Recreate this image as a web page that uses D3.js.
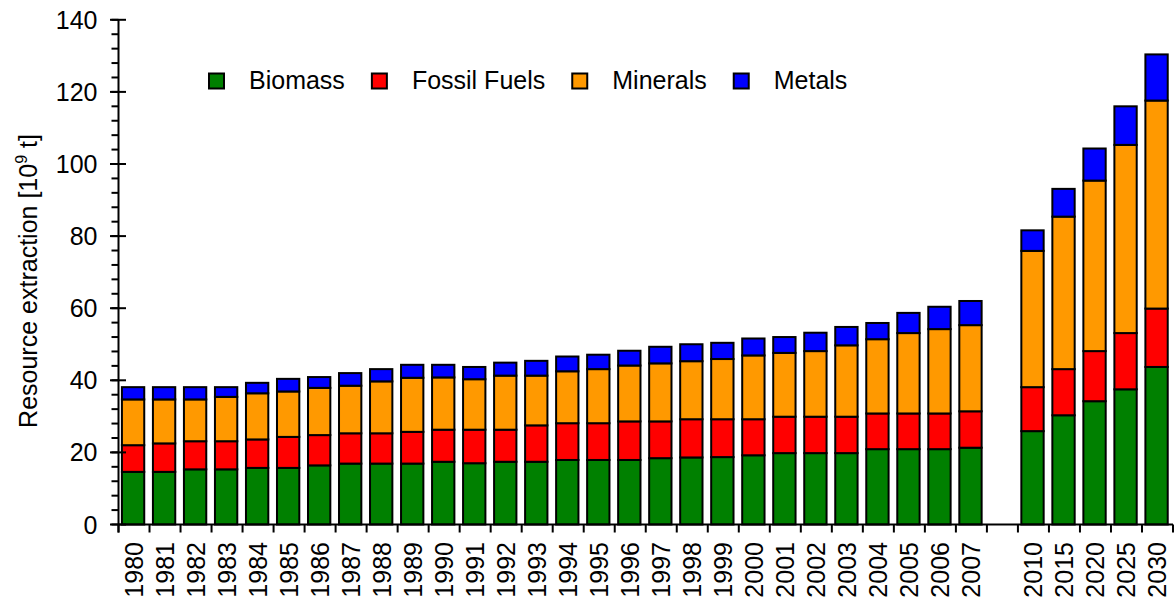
<!DOCTYPE html>
<html>
<head>
<meta charset="utf-8">
<script src="https://cdn.jsdelivr.net/npm/d3@7"></script>
<style>
  html, body { margin: 0; padding: 0; background: #ffffff; }
  svg { display: block; font-family: "Liberation Sans", Arial, sans-serif; }
</style>
</head>
<body>
<svg id="chart" width="1174" height="601"></svg>
<script>
// ---- data ----
const categories = ["1980","1981","1982","1983","1984","1985","1986","1987","1988","1989",
  "1990","1991","1992","1993","1994","1995","1996","1997","1998","1999",
  "2000","2001","2002","2003","2004","2005","2006","2007","","2010","2015","2020","2025","2030"];

const biomass = [14.6,14.6,15.3,15.3,15.7,15.7,16.4,16.9,16.9,16.9,
  17.4,17.0,17.4,17.4,17.9,17.9,17.9,18.4,18.6,18.7,
  19.2,19.8,19.8,19.8,20.9,20.9,20.9,21.3,null,25.9,30.3,34.2,37.5,43.7];
const fossilFuels = [7.4,7.9,7.8,7.8,7.9,8.6,8.4,8.4,8.4,8.8,
  8.9,9.3,8.9,10.1,10.2,10.2,10.7,10.2,10.6,10.5,
  10.0,10.1,10.1,10.1,9.9,9.9,9.9,10.1,null,12.2,12.8,13.9,15.6,16.2];
const minerals = [12.7,12.2,11.6,12.3,12.8,12.6,13.1,13.2,14.4,15.0,
  14.5,14.0,15.0,13.8,14.4,15.0,15.5,16.1,16.1,16.7,
  17.7,17.7,18.2,19.8,20.6,22.3,23.4,23.9,null,37.8,42.3,47.3,52.2,57.7];
const metals = [3.4,3.4,3.4,2.7,2.9,3.5,3.0,3.5,3.4,3.6,
  3.5,3.4,3.6,4.1,4.1,4.0,4.1,4.6,4.7,4.5,
  4.7,4.4,5.1,5.1,4.5,5.6,6.2,6.7,null,5.7,7.7,8.9,10.7,12.8];

const seriesNames = ["Biomass","Fossil Fuels","Minerals","Metals"];
const seriesColors = ["#008000","#ff0000","#ff9900","#0000ff"];
const yTicks = [0,20,40,60,80,100,120,140];
const yMinorTicks = d3.range(0, 141, 4);

(function () {
// ---- build table ----
const seriesData = [biomass, fossilFuels, minerals, metals];
const rows = categories.map((c, i) => {
  const r = { key: i, cat: c, empty: biomass[i] === null };
  seriesNames.forEach((s, j) => r[s] = seriesData[j][i] === null ? 0 : seriesData[j][i]);
  return r;
});

const svg = d3.select("#chart");
const pLeft = 118.5, pRight = 1173, pTop = 19.8, pBottom = 524.5;

const x = d3.scaleBand().domain(rows.map(r => r.key)).range([pLeft, pRight]).padding(0);
const y = d3.scaleLinear().domain([0, 140]).range([pBottom, pTop]);
const color = d3.scaleOrdinal().domain(seriesNames).range(seriesColors);

const stacked = d3.stack().keys(seriesNames)(rows);

const step = x.step();
const barOff = step * 0.11, barW = step * 0.72;

// bars
const g = svg.append("g");
stacked.forEach(layer => {
  g.append("g").selectAll("rect")
    .data(layer.filter(d => !d.data.empty))
    .join("rect")
    .attr("x", d => x(d.data.key) + barOff)
    .attr("width", barW)
    .attr("y", d => y(d[1]))
    .attr("height", d => y(d[0]) - y(d[1]))
    .attr("fill", color(layer.key))
    .attr("stroke", "#000")
    .attr("stroke-width", 2);
});

// y axis
const yAxisG = svg.append("g");
yAxisG.append("line").attr("x1", pLeft).attr("x2", pLeft).attr("y1", y(140)).attr("y2", pBottom + 8)
  .attr("stroke", "#000").attr("stroke-width", 2);
yAxisG.selectAll("line.minor").data(yMinorTicks).join("line").attr("class", "minor")
  .attr("x1", pLeft - 7).attr("x2", pLeft).attr("y1", d => y(d)).attr("y2", d => y(d))
  .attr("stroke", "#000").attr("stroke-width", 2);
yAxisG.selectAll("line.major").data(yTicks).join("line").attr("class", "major")
  .attr("x1", pLeft - 8.5).attr("x2", pLeft + 7.5).attr("y1", d => y(d)).attr("y2", d => y(d))
  .attr("stroke", "#000").attr("stroke-width", 2);
yAxisG.selectAll("text").data(yTicks).join("text")
  .attr("x", 97.5).attr("y", d => y(d)).attr("dy", "0.36em")
  .attr("text-anchor", "end").attr("font-size", 25).attr("fill", "#000")
  .text(d => d);

// x axis
const xAxisG = svg.append("g");
xAxisG.append("line").attr("x1", pLeft).attr("x2", pRight).attr("y1", pBottom).attr("y2", pBottom)
  .attr("stroke", "#000").attr("stroke-width", 2);
const boundaries = rows.map(r => x(r.key) + step).concat([pLeft]);
xAxisG.selectAll("line.tick").data(boundaries).join("line").attr("class", "tick")
  .attr("x1", d => d).attr("x2", d => d).attr("y1", pBottom).attr("y2", pBottom + 8)
  .attr("stroke", "#000").attr("stroke-width", 2);
xAxisG.selectAll("text").data(rows).join("text")
  .attr("transform", d => `translate(${x(d.key) + step / 2},542) rotate(-90)`)
  .attr("dy", "0.36em")
  .attr("text-anchor", "end").attr("font-size", 25).attr("fill", "#000")
  .text(d => d.cat);

// y title
const title = svg.append("text")
  .attr("transform", "translate(37,281) rotate(-90)")
  .attr("text-anchor", "middle").attr("font-size", 25).attr("fill", "#000");
title.append("tspan").text("Resource extraction [10");
title.append("tspan").attr("font-size", 16).attr("dy", -10).text("9");
title.append("tspan").attr("dy", 10).text(" t]");

// legend
const legend = svg.append("g");
let lx = 209;
seriesNames.forEach((s, i) => {
  legend.append("rect").attr("x", lx).attr("y", 73.5).attr("width", 15).attr("height", 15)
    .attr("fill", seriesColors[i]).attr("stroke", "#000").attr("stroke-width", 2);
  const t = legend.append("text").attr("x", lx + 40).attr("y", 89.3)
    .attr("font-size", 25).attr("fill", "#000").text(s);
  const w = t.node().getComputedTextLength();
  lx = lx + 40 + w + 27;
});
})();
</script>
</body>
</html>
